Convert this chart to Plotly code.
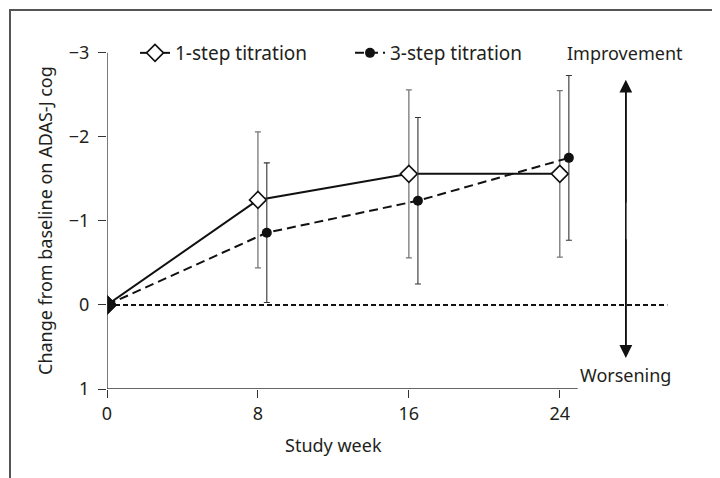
import plotly.graph_objects as go

weeks = [0, 8, 16, 24]
weeks_3step = [0, 8.47, 16.48, 24.48]
one_step = [0, -1.25, -1.56, -1.56]
one_step_err = [0, 0.81, 1.0, 0.99]
three_step = [0, -0.86, -1.24, -1.75]
three_step_err = [0, 0.83, 0.99, 0.98]
x_ticks = [0, 8, 16, 24]
y_ticks = [-3, -2, -1, 0, 1]
y_tick_labels = ["\u22123", "\u22122", "\u22121", "0", "1"]

FONT = "Noto Sans"
TXT = "#231f20"
FS = 18

# page has an 8px body margin; plot area in figure coords
OFF = 8
L, T, W, H = 99, 28, 566, 353
def px(xs):
    return (xs - OFF - L) / W
def py(ys):
    return (T + H - (ys - OFF)) / H

fig = go.Figure()

fig.add_trace(go.Scatter(
    x=weeks, y=one_step, name="1-step titration", mode="lines+markers",
    line=dict(color="#111", width=2),
    marker=dict(symbol="diamond", size=13, color="white",
                line=dict(color="#111", width=1.6)),
    error_y=dict(type="data", array=one_step_err, visible=True,
                 color="#777", thickness=1.3, width=3),
))
fig.add_trace(go.Scatter(
    x=weeks_3step, y=three_step, name="3-step titration", mode="lines+markers",
    line=dict(color="#111", width=2, dash="9px,5px"),
    marker=dict(symbol="circle", size=10, color="#111"),
    error_y=dict(type="data", array=three_step_err, visible=True,
                 color="#333", thickness=1.1, width=3),
))
# baseline point (both groups) shown as filled diamond
fig.add_trace(go.Scatter(
    x=weeks[:1], y=one_step[:1], mode="markers", showlegend=False,
    marker=dict(symbol="diamond", size=15, color="#111",
                line=dict(color="#111", width=1)),
    hoverinfo="skip",
))

# zero reference line
fig.add_shape(type="line", x0=0, x1=29.7, y0=0, y1=0, xref="x", yref="y",
              line=dict(color="#111", width=2, dash="5px,3px"), layer="below")
# x axis line (ends at ~25)
fig.add_shape(type="line", x0=0, x1=24.95, y0=1, y1=1, xref="x", yref="y",
              line=dict(color="#333", width=1.3))
# y axis line (from 1 to -3)
fig.add_shape(type="line", x0=0, x1=0, y0=1, y1=-3, xref="x", yref="y",
              line=dict(color="#333", width=1.3))
# outer frame
fig.add_shape(type="rect", x0=px(10), x1=px(760), y0=py(520), y1=py(10),
              xref="paper", yref="paper", line=dict(color="#555", width=2))

# double-headed arrow: shaft + two heads
fig.add_shape(type="line", x0=27.5, x1=27.5, y0=-2.55, y1=0.5, xref="x", yref="y",
              line=dict(color="#111", width=1.6))
fig.add_annotation(x=27.5, y=-2.68, ax=27.5, ay=-1.2, xref="x", yref="y",
                   axref="x", ayref="y", showarrow=True, arrowhead=2,
                   arrowsize=1.6, arrowwidth=1.6, arrowcolor="#111", text="")
fig.add_annotation(x=27.5, y=0.63, ax=27.5, ay=-0.8, xref="x", yref="y",
                   axref="x", ayref="y", showarrow=True, arrowhead=2,
                   arrowsize=1.6, arrowwidth=1.6, arrowcolor="#111", text="")
fig.add_annotation(x=27.45, y=-3, xref="x", yref="y", text="Improvement",
                   showarrow=False, font=dict(family=FONT, size=FS, color=TXT))
fig.add_annotation(x=27.5, y=0.83, xref="x", yref="y", text="Worsening",
                   showarrow=False, font=dict(family=FONT, size=FS, color=TXT))
# axis titles
fig.add_annotation(x=px(333), y=py(445), xref="paper", yref="paper",
                   text="Study week", showarrow=False, yanchor="middle",
                   font=dict(family=FONT, size=18, color=TXT))
fig.add_annotation(x=px(45), y=py(221), xref="paper", yref="paper",
                   text="Change from baseline on ADAS-J cog", showarrow=False,
                   textangle=-90, xanchor="center", yanchor="middle",
                   font=dict(family=FONT, size=18, color=TXT))

fig.update_layout(
    width=720, height=478,
    margin=dict(l=L, r=720 - L - W, t=T, b=478 - T - H),
    paper_bgcolor="white", plot_bgcolor="white",
    font=dict(family=FONT, size=FS, color=TXT),
    showlegend=True,
    legend=dict(orientation="h", x=px(135), y=py(53), xanchor="left", yanchor="middle",
                font=dict(family=FONT, size=19, color=TXT),
                entrywidth=170, entrywidthmode="pixels",
                bgcolor="rgba(0,0,0,0)", itemclick=False),
    xaxis=dict(range=[0, 30], tickvals=x_ticks, showline=False, showgrid=False,
               zeroline=False, ticks="outside", ticklen=8, tickcolor="#333",
               tickwidth=1.3, automargin=False,
               tickfont=dict(family=FONT, size=FS, color=TXT)),
    yaxis=dict(range=[1, -3.2], tickvals=y_ticks, ticktext=y_tick_labels,
               showline=False, showgrid=False, automargin=False,
               zeroline=False, ticks="outside", ticklen=8, tickcolor="#333",
               tickwidth=1.3, ticklabelstandoff=5,
               tickfont=dict(family=FONT, size=FS, color=TXT)),
)

fig.write_html("out.html")
